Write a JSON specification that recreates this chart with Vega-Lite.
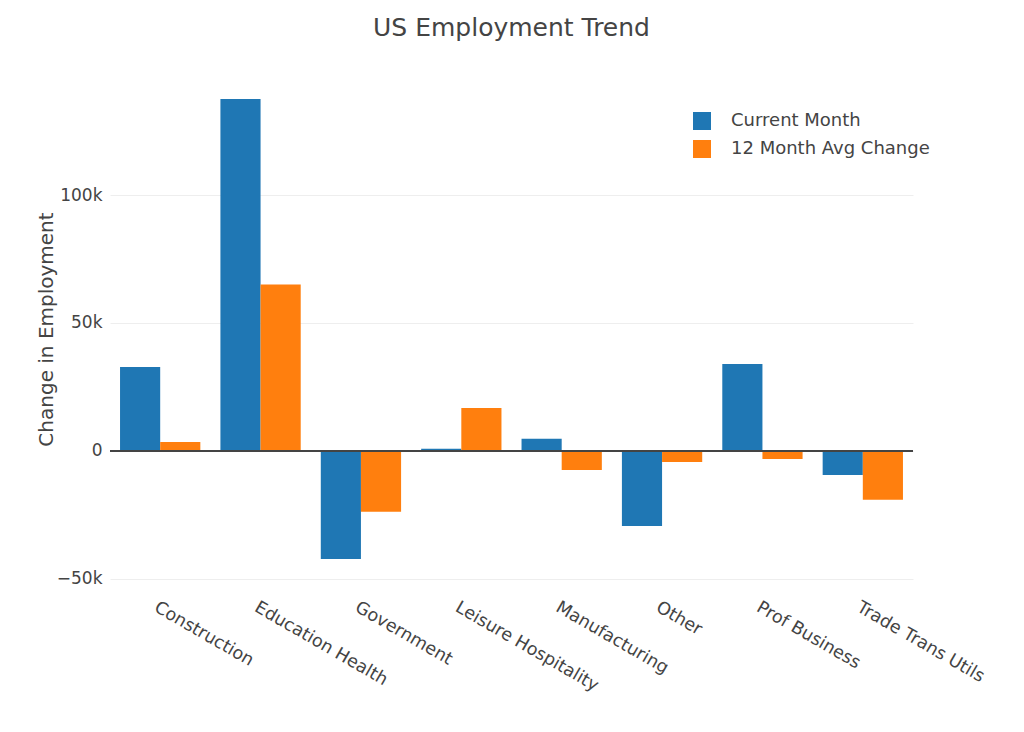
{
  "$schema": "https://vega.github.io/schema/vega-lite/v6.json",
  "width": 803,
  "height": 506,
  "autosize": {"type": "none"},
  "padding": {"left": 110, "top": 76, "right": 111, "bottom": 150},
  "background": "white",
  "config": {
    "font": "DejaVu Sans",
    "view": {"stroke": null},
    "title": {"fontSize": 25, "fontWeight": "normal", "color": "#444", "anchor": "middle", "offset": 35}
  },
  "title": "US Employment Trend",
  "data": {
    "values": [
      {"sector": "Construction", "series": "Current Month", "value": 32800},
      {"sector": "Construction", "series": "12 Month Avg Change", "value": 3500},
      {"sector": "Education Health", "series": "Current Month", "value": 137500},
      {"sector": "Education Health", "series": "12 Month Avg Change", "value": 65000},
      {"sector": "Government", "series": "Current Month", "value": -42200},
      {"sector": "Government", "series": "12 Month Avg Change", "value": -23800},
      {"sector": "Leisure Hospitality", "series": "Current Month", "value": 900},
      {"sector": "Leisure Hospitality", "series": "12 Month Avg Change", "value": 16800},
      {"sector": "Manufacturing", "series": "Current Month", "value": 4800},
      {"sector": "Manufacturing", "series": "12 Month Avg Change", "value": -7400},
      {"sector": "Other", "series": "Current Month", "value": -29300},
      {"sector": "Other", "series": "12 Month Avg Change", "value": -4300},
      {"sector": "Prof Business", "series": "Current Month", "value": 34000},
      {"sector": "Prof Business", "series": "12 Month Avg Change", "value": -3100},
      {"sector": "Trade Trans Utils", "series": "Current Month", "value": -9400},
      {"sector": "Trade Trans Utils", "series": "12 Month Avg Change", "value": -19100}
    ]
  },
  "layer": [
    {
      "mark": {"type": "bar"},
      "encoding": {
        "x": {
          "field": "sector",
          "type": "nominal",
          "sort": null,
          "scale": {"paddingInner": 0.2, "paddingOuter": 0.1},
          "axis": {
            "title": null,
            "labelAngle": 30,
            "labelAlign": "left",
            "labelBaseline": "top",
            "labelFontSize": 17.5,
            "labelColor": "#444",
            "labelPadding": 16,
            "labelLimit": 0,
            "ticks": false,
            "domain": false
          }
        },
        "xOffset": {
          "field": "series",
          "type": "nominal",
          "sort": ["Current Month", "12 Month Avg Change"],
          "scale": {"paddingInner": 0, "paddingOuter": 0}
        },
        "y": {
          "field": "value",
          "type": "quantitative",
          "scale": {"domain": [-51200, 146500], "nice": false, "zero": false},
          "axis": {
            "title": "Change in Employment",
            "titleFontSize": 20,
            "titleFontWeight": "normal",
            "titleColor": "#444",
            "titlePadding": 0,
            "values": [-50000, 0, 50000, 100000],
            "labelExpr": "datum.value == 0 ? '0' : format(datum.value, '~s')",
            "labelFontSize": 17,
            "labelColor": "#444",
            "labelPadding": 8,
            "ticks": false,
            "domain": false,
            "gridColor": "#eeeeee",
            "gridWidth": 1
          }
        },
        "color": {
          "field": "series",
          "type": "nominal",
          "scale": {"domain": ["Current Month", "12 Month Avg Change"], "range": ["#1f77b4", "#ff7f0e"]},
          "legend": {
            "title": null,
            "orient": "none",
            "legendX": 583,
            "legendY": 36,
            "symbolType": "square",
            "symbolSize": 324,
            "symbolStrokeWidth": 0,
            "symbolOpacity": 1,
            "labelFontSize": 18,
            "labelColor": "#444",
            "labelOffset": 20,
            "labelLimit": 0,
            "rowPadding": 10
          }
        }
      }
    },
    {
      "mark": {"type": "rule", "color": "#444", "strokeWidth": 1},
      "encoding": {"y": {"datum": 0}}
    }
  ]
}
